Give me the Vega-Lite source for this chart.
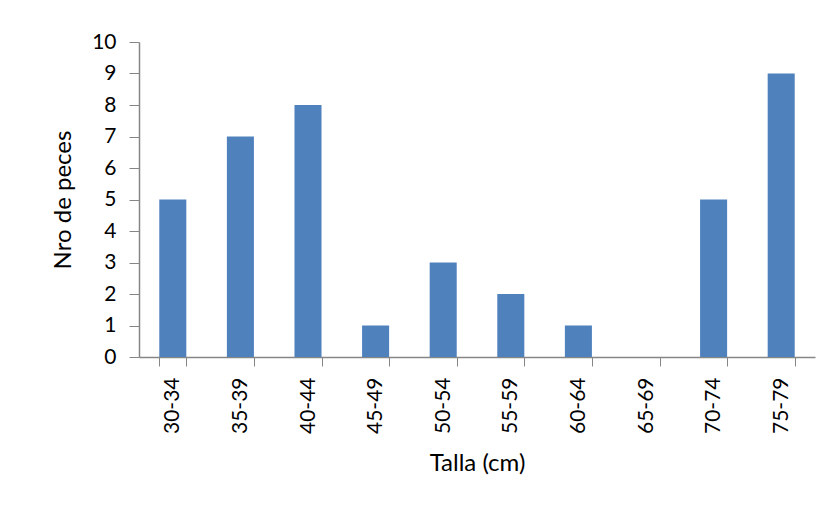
{
  "$schema": "https://vega.github.io/schema/vega-lite/v6.json",
  "width": 676,
  "height": 315,
  "autosize": {"type": "none"},
  "padding": {"left": 139, "top": 42, "right": 18, "bottom": 154},
  "background": "white",
  "config": {"view": {"stroke": null}, "font": "Lato"},
  "data": {"values": [
    {"talla": "30-34", "n": 5},
    {"talla": "35-39", "n": 7},
    {"talla": "40-44", "n": 8},
    {"talla": "45-49", "n": 1},
    {"talla": "50-54", "n": 3},
    {"talla": "55-59", "n": 2},
    {"talla": "60-64", "n": 1},
    {"talla": "65-69", "n": 0},
    {"talla": "70-74", "n": 5},
    {"talla": "75-79", "n": 9}
  ]},
  "mark": {"type": "bar", "color": "#4F81BD"},
  "encoding": {
    "x": {
      "field": "talla", "type": "nominal", "sort": null,
      "scale": {"paddingInner": 0.6, "paddingOuter": 0.3},
      "axis": {
        "title": "Talla (cm)", "titleFont": "Lato", "titleFontSize": 24, "titleFontWeight": "normal", "titleColor": "#000",
        "titlePadding": 18,
        "labelAngle": -90, "labelFontSize": 21, "labelColor": "#000", "labelPadding": 11, "labelFont": "Lato",
        "tickBand": "extent", "tickSize": 9, "tickColor": "#868686", "domainColor": "#868686", "domainWidth": 1.5
      }
    },
    "y": {
      "field": "n", "type": "quantitative",
      "scale": {"domain": [0, 10], "nice": false},
      "axis": {
        "title": "Nro de peces", "titleFont": "Lato", "titleFontSize": 24, "titleFontWeight": "normal", "titleColor": "#000",
        "titlePadding": 16,
        "values": [0,1,2,3,4,5,6,7,8,9,10], "grid": false,
        "labelFontSize": 21, "labelColor": "#000", "labelPadding": 13, "labelFont": "Lato",
        "tickSize": 10, "tickColor": "#868686", "domainColor": "#868686", "domainWidth": 1.5
      }
    }
  }
}
